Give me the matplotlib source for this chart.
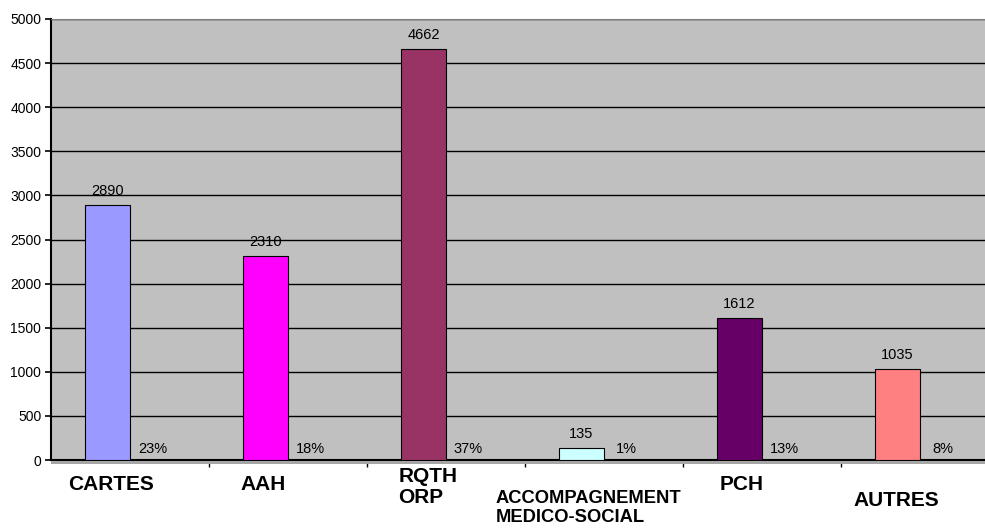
#!/usr/bin/env python3
"""Demandes par type de prestation : nombre et part (%)."""
import matplotlib
matplotlib.use("Agg")
import matplotlib.pyplot as plt
from matplotlib.patches import Rectangle
import numpy as np

CATEGORIES = ["CARTES", "AAH", "RQTH\nORP", "ACCOMPAGNEMENT\nMEDICO-SOCIAL", "PCH", "AUTRES"]
VALUES = [2890, 2310, 4662, 135, 1612, 1035]
PERCENTS = ["23%", "18%", "37%", "1%", "13%", "8%"]
COLORS = ["#9999FF", "#FF00FF", "#993366", "#CCFFFF", "#660066", "#FF8080"]
YTICKS = [0, 500, 1000, 1500, 2000, 2500, 3000, 3500, 4000, 4500, 5000]

# layout of the category labels (Excel placed them unevenly)
LABEL_DX = [0.383, 0.342, 0.386, 0.40, 0.37, 0.35]   # offset inside category
LABEL_YPX = [485, 485, 487, 508, 485, 500]          # centre, pixels from top
LABEL_SIZE = [15, 15, 15, 13.2, 15, 15]

W, H = 985, 529
plt.rcParams["font.family"] = ["Liberation Sans", "DejaVu Sans"]

fig = plt.figure(figsize=(W / 100, H / 100), dpi=100)
left, right, top, bottom = 51, 999, 19, 460
ax = fig.add_axes([left / W, 1 - bottom / H, (right - left) / W, (bottom - top) / H])
ax.set_facecolor("#C0C0C0")

x = np.arange(len(CATEGORIES))
bw = 0.285
x0 = x + 0.215 + bw / 2
ax.bar(x0, VALUES, bw, color=COLORS, edgecolor="black", linewidth=0.8, zorder=3)
for xi, v in zip(x0, VALUES):
    ax.annotate(str(v), (xi, v), xytext=(0, 5), textcoords="offset points",
                ha="center", va="bottom", fontsize=10.5, zorder=4)
for xi, p in zip(x0 + bw, PERCENTS):
    ax.annotate(p, (xi, 0), xytext=(0, 3), textcoords="offset points",
                ha="center", va="bottom", fontsize=10.5, zorder=4)

ax.set_xlim(0, len(CATEGORIES))
ax.set_ylim(0, 5000)
ax.set_yticks(YTICKS)
ax.tick_params(axis="y", labelsize=10, length=4, width=1.2, pad=3)
ax.yaxis.grid(True, color="black", linewidth=1.0, zorder=1)
ax.set_axisbelow(True)
ax.set_xticks(x[1:])
ax.set_xticklabels([])
ax.tick_params(axis="x", length=5, width=1.0, direction="out")

ax.spines["right"].set_visible(False)
ax.spines["top"].set_color("#808080")
ax.spines["left"].set_linewidth(1.5)
ax.spines["bottom"].set_linewidth(1.5)

# grey floor strip under the axis
fig.patches.append(Rectangle((left / W, 1 - 464 / H), (right - left) / W, 3.5 / H,
                             transform=fig.transFigure, facecolor="#A6A6A6",
                             edgecolor="none", zorder=0))

for i, lab in enumerate(CATEGORIES):
    xf = (left + (i + LABEL_DX[i]) * 158) / W
    fig.text(xf, 1 - LABEL_YPX[i] / H, lab, ha="center", va="center",
             multialignment="left", fontsize=LABEL_SIZE[i], fontweight="bold",
             linespacing=1.15 if i != 3 else 1.12)

fig.savefig("out.png", dpi=100)
